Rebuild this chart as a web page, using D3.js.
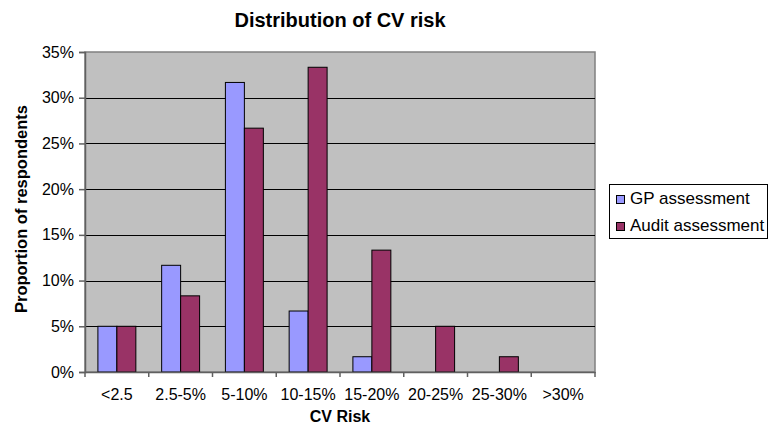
<!DOCTYPE html>
<html>
<head>
<meta charset="utf-8">
<script src="https://cdn.jsdelivr.net/npm/d3@7"></script>
<style>
  body { margin: 0; background: #fff; }
  text { font-family: "Liberation Sans", Arial, sans-serif; fill: #000; }
</style>
</head>
<body>
<div id="chart"></div>
<script>
// data
const categories = ["<2.5", "2.5-5%", "5-10%", "10-15%", "15-20%", "20-25%", "25-30%", ">30%"];
const seriesNames = ["GP assessment", "Audit assessment"];
const gpValues = [5.0, 11.67, 31.67, 6.67, 1.67, 0, 0, 0];
const auditValues = [5.0, 8.33, 26.67, 33.33, 13.33, 5.0, 1.67, 0];
const yTicks = [0, 5, 10, 15, 20, 25, 30, 35];
const colors = ["#9999FF", "#993366"];

const W = 768, H = 425;
const plot = { left: 85, right: 595, top: 52, bottom: 372 };

const svg = d3.select("#chart").append("svg")
    .attr("width", W)
    .attr("height", H);

const x0 = d3.scaleBand().domain(categories).range([plot.left, plot.right]);
const x1 = d3.scaleBand().domain(seriesNames).range([0, x0.bandwidth()]).paddingOuter(0.68).paddingInner(0);
const y = d3.scaleLinear().domain([0, 35]).range([plot.bottom, plot.top]);

// plot background
svg.append("rect")
    .attr("x", plot.left).attr("y", plot.top)
    .attr("width", plot.right - plot.left).attr("height", plot.bottom - plot.top)
    .attr("fill", "#C0C0C0")
    .attr("stroke", "#808080")
    .attr("stroke-width", 1.5);

// grid lines
svg.selectAll("line.grid")
    .data(yTicks.slice(1, -1))
    .join("line")
    .attr("class", "grid")
    .attr("x1", plot.left).attr("x2", plot.right)
    .attr("y1", d => Math.round(y(d)) + 0.5).attr("y2", d => Math.round(y(d)) + 0.5)
    .attr("stroke", "#000")
    .attr("stroke-width", 1);

// bars
const rows = categories.map((c, i) => ({ cat: c, vals: [gpValues[i], auditValues[i]] }));
const groups = svg.append("g").selectAll("g")
    .data(rows)
    .join("g")
    .attr("transform", d => `translate(${x0(d.cat)},0)`);

groups.selectAll("rect")
    .data(d => d.vals.map((v, j) => ({ name: seriesNames[j], v: v, j: j })).filter(d => d.v > 0))
    .join("rect")
    .attr("x", d => x1(d.name))
    .attr("y", d => y(d.v))
    .attr("width", x1.bandwidth())
    .attr("height", d => y(0) - y(d.v))
    .attr("fill", d => colors[d.j])
    .attr("stroke", "#000")
    .attr("stroke-width", 1);

// y axis
const yAxis = svg.append("g")
    .attr("transform", `translate(${plot.left},0)`)
    .call(d3.axisLeft(y).tickValues(yTicks).tickFormat(d => d + "%").tickSize(6).tickPadding(5));
yAxis.selectAll("text").style("font-size", "16px");
yAxis.selectAll("line, path").attr("stroke", "#606060").attr("stroke-width", 1.5);

// x axis, ticks between categories
const xAxis = svg.append("g")
    .attr("transform", `translate(0,${plot.bottom})`)
    .call(d3.axisBottom(x0).tickSizeInner(0).tickSizeOuter(0).tickPadding(17));
xAxis.selectAll("text").style("font-size", "16px");
xAxis.select(".domain").attr("stroke", "#606060").attr("stroke-width", 1.5);
xAxis.selectAll("line.sep")
    .data(categories.map(c => x0(c)).concat([plot.right]))
    .join("line")
    .attr("class", "sep")
    .attr("x1", d => d).attr("x2", d => d)
    .attr("y1", 0).attr("y2", 5)
    .attr("stroke", "#606060")
    .attr("stroke-width", 1.5);

// titles
svg.append("text")
    .attr("x", 340).attr("y", 27)
    .attr("text-anchor", "middle")
    .style("font-size", "20px").style("font-weight", "bold")
    .text("Distribution of CV risk");

svg.append("text")
    .attr("x", 340).attr("y", 422)
    .attr("text-anchor", "middle")
    .style("font-size", "16px").style("font-weight", "bold")
    .text("CV Risk");

svg.append("text")
    .attr("transform", "translate(27,209) rotate(-90)")
    .attr("text-anchor", "middle")
    .style("font-size", "16.5px").style("font-weight", "bold")
    .text("Proportion of respondents");

// legend
const legend = svg.append("g").attr("transform", "translate(609,184)");
legend.append("rect")
    .attr("x", 0.5).attr("y", 0.5)
    .attr("width", 158).attr("height", 54)
    .attr("fill", "#fff")
    .attr("stroke", "#000");
const items = legend.selectAll("g.item")
    .data(seriesNames)
    .join("g")
    .attr("class", "item")
    .attr("transform", (d, i) => `translate(0,${i * 27})`);
items.append("rect")
    .attr("x", 7.5).attr("y", 11.5)
    .attr("width", 8).attr("height", 8)
    .attr("fill", (d, i) => colors[i])
    .attr("stroke", "#000");
items.append("text")
    .attr("x", 21).attr("y", 19.5)
    .style("font-size", "17px")
    .text(d => d);
</script>
</body>
</html>
